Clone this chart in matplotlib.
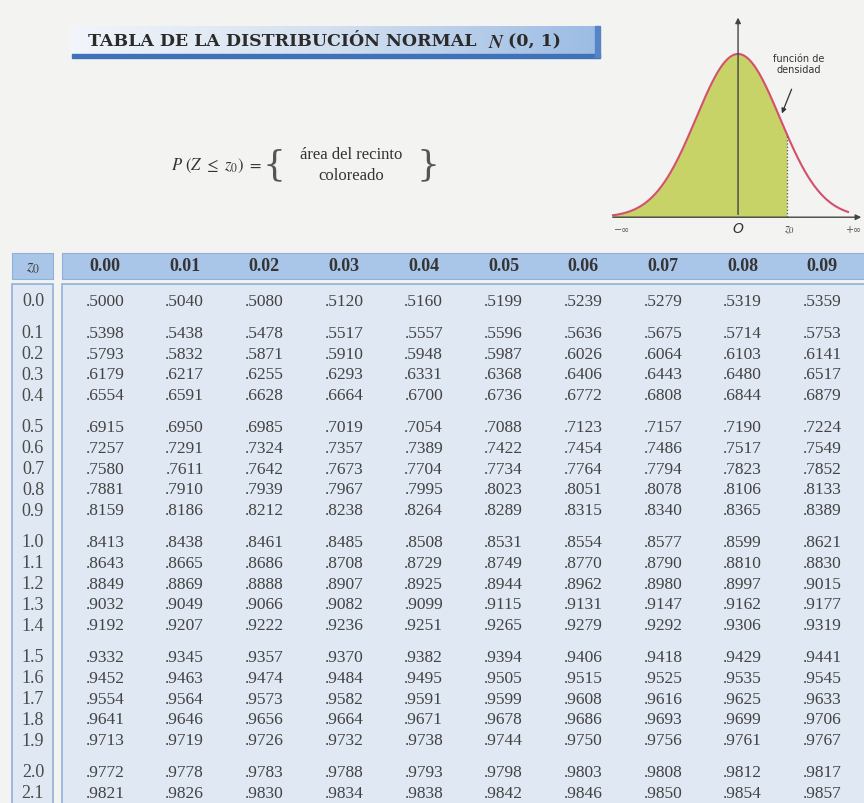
import numpy as np
import matplotlib.pyplot as plt
from matplotlib.colors import LinearSegmentedColormap
from matplotlib.patches import Rectangle

plt.rcParams['mathtext.fontset'] = 'stix'

# table values
z_rows = ["0.0", "0.1", "0.2", "0.3", "0.4", "0.5", "0.6", "0.7", "0.8", "0.9",
          "1.0", "1.1", "1.2", "1.3", "1.4", "1.5", "1.6", "1.7", "1.8", "1.9",
          "2.0", "2.1"]
z_cols = ["0.00", "0.01", "0.02", "0.03", "0.04", "0.05", "0.06", "0.07", "0.08", "0.09"]

probs = [
    [.5000, .5040, .5080, .5120, .5160, .5199, .5239, .5279, .5319, .5359],
    [.5398, .5438, .5478, .5517, .5557, .5596, .5636, .5675, .5714, .5753],
    [.5793, .5832, .5871, .5910, .5948, .5987, .6026, .6064, .6103, .6141],
    [.6179, .6217, .6255, .6293, .6331, .6368, .6406, .6443, .6480, .6517],
    [.6554, .6591, .6628, .6664, .6700, .6736, .6772, .6808, .6844, .6879],
    [.6915, .6950, .6985, .7019, .7054, .7088, .7123, .7157, .7190, .7224],
    [.7257, .7291, .7324, .7357, .7389, .7422, .7454, .7486, .7517, .7549],
    [.7580, .7611, .7642, .7673, .7704, .7734, .7764, .7794, .7823, .7852],
    [.7881, .7910, .7939, .7967, .7995, .8023, .8051, .8078, .8106, .8133],
    [.8159, .8186, .8212, .8238, .8264, .8289, .8315, .8340, .8365, .8389],
    [.8413, .8438, .8461, .8485, .8508, .8531, .8554, .8577, .8599, .8621],
    [.8643, .8665, .8686, .8708, .8729, .8749, .8770, .8790, .8810, .8830],
    [.8849, .8869, .8888, .8907, .8925, .8944, .8962, .8980, .8997, .9015],
    [.9032, .9049, .9066, .9082, .9099, .9115, .9131, .9147, .9162, .9177],
    [.9192, .9207, .9222, .9236, .9251, .9265, .9279, .9292, .9306, .9319],
    [.9332, .9345, .9357, .9370, .9382, .9394, .9406, .9418, .9429, .9441],
    [.9452, .9463, .9474, .9484, .9495, .9505, .9515, .9525, .9535, .9545],
    [.9554, .9564, .9573, .9582, .9591, .9599, .9608, .9616, .9625, .9633],
    [.9641, .9646, .9656, .9664, .9671, .9678, .9686, .9693, .9699, .9706],
    [.9713, .9719, .9726, .9732, .9738, .9744, .9750, .9756, .9761, .9767],
    [.9772, .9778, .9783, .9788, .9793, .9798, .9803, .9808, .9812, .9817],
    [.9821, .9826, .9830, .9834, .9838, .9842, .9846, .9850, .9854, .9857],
]

z0 = 1.17  # position of the z0 mark in the sketch

fig = plt.figure(figsize=(8.64, 8.04), dpi=100)
fig.patch.set_facecolor("#f3f3f2")
ax = fig.add_axes([0, 0, 1, 1])
ax.set_xlim(0, 864)
ax.set_ylim(804, 0)
ax.axis("off")

# title banner
grad = np.linspace(0, 1, 256).reshape(1, -1)
banner_cmap = LinearSegmentedColormap.from_list("banner", ["#f2f5fa", "#d3e0f0", "#9cbce3"])
ax.imshow(grad, extent=(70, 597, 56, 27), aspect="auto", cmap=banner_cmap, zorder=1)
ax.add_patch(Rectangle((72, 55), 528, 3.5, color="#3f72b8", zorder=2))
ax.add_patch(Rectangle((595, 27), 5, 31, color="#5585c6", zorder=2))
title = ax.text(88, 42, "TABLA DE LA DISTRIBUCIÓN NORMAL", family="DejaVu Serif",
                weight="bold", fontsize=12.5, color="#2b2b2b", ha="left", va="center",
                zorder=3)
fig.canvas.draw()
x_end = title.get_window_extent().x1  # pixels, same as data x here
ax.text(x_end + 11, 42, r"$\boldsymbol{N}$", fontsize=14, color="#2b2b2b",
        ha="left", va="center", zorder=3)
ax.text(x_end + 32, 42, "(0, 1)", family="DejaVu Serif", weight="bold", fontsize=12.5,
        color="#2b2b2b", ha="left", va="center", zorder=3)

# formula
ax.text(262, 166, r"$P\ (Z\ \leq\ z_0)\ =$", fontsize=12, color="#333333",
        ha="right", va="center")
ax.text(274, 165, "{", family="DejaVu Serif", fontsize=26, color="#555555",
        ha="center", va="center", fontweight="light")
ax.text(428, 165, "}", family="DejaVu Serif", fontsize=26, color="#555555",
        ha="center", va="center", fontweight="light")
ax.text(351, 155, "área del recinto", family="Liberation Serif", fontsize=12,
        color="#333333", ha="center", va="center")
ax.text(351, 176, "coloreado", family="Liberation Serif", fontsize=12,
        color="#333333", ha="center", va="center")

# table
col_x0, col_dx = 105, 79.7
row_y0, row_dy, gap = 302, 20.8, 11


def row_y(i):
    grp = 0 if i == 0 else i // 5 + 1
    return row_y0 + i * row_dy + grp * gap


ax.add_patch(Rectangle((12, 254), 41, 26, facecolor="#a9c5e7", edgecolor="#8fb0da", lw=0.8))
ax.add_patch(Rectangle((62, 254), 810, 26, facecolor="#a9c5e7", edgecolor="#8fb0da", lw=0.8))
ax.add_patch(Rectangle((12, 285), 41, 525, facecolor="#e0e8f3", edgecolor="#8fb0da", lw=1.2))
ax.add_patch(Rectangle((62, 285), 810, 525, facecolor="#e0e8f3", edgecolor="#8fb0da", lw=1.2))

ax.text(33, 267, r"$z_0$", fontsize=12, color="#3a3a3a", ha="center", va="center")
for j, lab in enumerate(z_cols):
    ax.text(col_x0 + j * col_dx, 267, lab, family="Liberation Serif", weight="bold",
            fontsize=13, color="#353535", ha="center", va="center")

for i, lab in enumerate(z_rows):
    y = row_y(i)
    ax.text(33, y, lab, family="Liberation Serif", fontsize=13, color="#4a4a4a",
            ha="center", va="center")
    for j in range(len(z_cols)):
        txt = f"{probs[i][j]:.4f}"[1:]
        ax.text(col_x0 + j * col_dx, y, txt, family="Liberation Serif", fontsize=12.5,
                color="#434343", ha="center", va="center")

# density sketch
ax2 = fig.add_axes([610 / 864, 1 - 228 / 804, 254 / 864, 213 / 804])
ax2.axis("off")
ax2.set_xlim(-3.05, 3.0)
ax2.set_ylim(-0.06, 1.245)
xs = np.linspace(-2.98, 2.62, 300)
ys = np.exp(-xs ** 2 / 2)
xf = xs[xs <= z0]
ax2.fill_between(xf, 0, np.exp(-xf ** 2 / 2), color="#c7d267", lw=0)
ax2.plot(xs, ys, color="#d4506c", lw=1.5)
ax2.plot([z0, z0], [0, np.exp(-z0 ** 2 / 2)], color="#555555", lw=0.9, ls=":")
ax2.annotate("", xy=(3.0, 0), xytext=(-3.05, 0),
             arrowprops=dict(arrowstyle="-|>", color="#444444", lw=1, mutation_scale=8))
ax2.annotate("", xy=(0, 1.24), xytext=(0, 0),
             arrowprops=dict(arrowstyle="-|>", color="#444444", lw=1, mutation_scale=8))
ax2.text(-2.75, -0.075, "−∞", fontsize=7, color="#555555", ha="center", va="center")
ax2.text(0, -0.068, "O", fontsize=10, style="italic", color="#333333", ha="center", va="center")
ax2.text(z0 + 0.05, -0.07, r"$z_0$", fontsize=9, color="#444444", ha="center", va="center")
ax2.text(2.75, -0.075, "+∞", fontsize=7, color="#555555", ha="center", va="center")
ax2.text(1.45, 0.94, "función de\ndensidad", fontsize=7, color="#333333",
         ha="center", va="center", linespacing=1.1)
ax2.annotate("", xy=(1.02, 0.62), xytext=(1.3, 0.8),
             arrowprops=dict(arrowstyle="-|>", color="#333333", lw=0.9, mutation_scale=7))

plt.savefig("out.png", dpi=100, facecolor=fig.get_facecolor())
plt.close()
